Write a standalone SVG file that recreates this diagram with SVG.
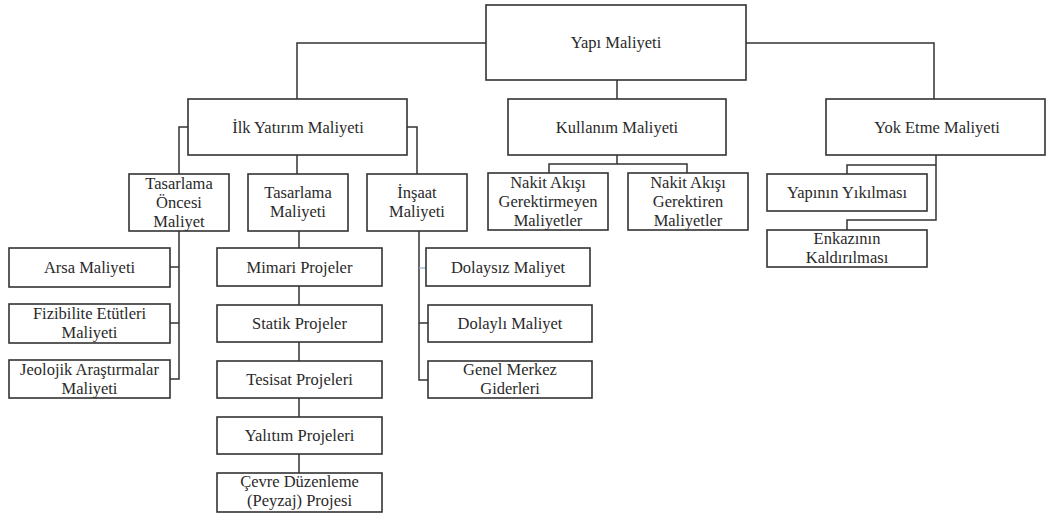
<svg xmlns="http://www.w3.org/2000/svg" width="1051" height="515" viewBox="0 0 1051 515">
<style>
.b{fill:#fff;stroke:#333;stroke-width:1.6}
.c{fill:none;stroke:#333;stroke-width:1.5}
text{font-family:"Times New Roman","Liberation Serif","DejaVu Serif","Noto Serif",Times,serif;font-size:16.5px;fill:#2a2a2a;text-anchor:middle}
</style>
<rect width="1051" height="515" fill="#fff"/>
<g id="connectors">
<path class="c" d="M486 43H297V99M617 80V99M746 43H934V99"/>
<path class="c" d="M188 127H179V174M297 155V174M407 127H417V174"/>
<path class="c" d="M617 155V164M549 173V164H687V173"/>
<path class="c" d="M936 155V220H847V230M936 165H847V174"/>
<path class="c" d="M179 231V379H170M170 267H179M170 323H179"/>
<path class="c" d="M299 231V248M299 286V305M299 342V361M299 398V417M299 454V473"/>
<path class="c" d="M419 231V380H428M419 323H428"/>
<path fill="none" stroke="#8fb0d8" stroke-width="1.2" d="M419 268H426"/>
</g>
<g id="yapi"><rect class="b" x="486" y="5" width="260" height="75"/><text x="616" y="48">Yapı Maliyeti</text></g>
<g id="ilk"><rect class="b" x="188" y="99" width="219" height="56"/><text x="298" y="133">İlk Yatırım Maliyeti</text></g>
<g id="kullanim"><rect class="b" x="508" y="99" width="218" height="56"/><text x="617" y="133">Kullanım Maliyeti</text></g>
<g id="yoketme"><rect class="b" x="826" y="99" width="219" height="56"/><text x="937" y="133">Yok Etme Maliyeti</text></g>
<g id="tasarlamaoncesi"><rect class="b" x="129" y="174" width="100" height="57"/><text x="179" y="189">Tasarlama</text><text x="179" y="208">Öncesi</text><text x="179" y="227">Maliyet</text></g>
<g id="tasarlama"><rect class="b" x="248" y="174" width="100" height="57"/><text x="298" y="198">Tasarlama</text><text x="298" y="217">Maliyeti</text></g>
<g id="insaat"><rect class="b" x="367" y="174" width="100" height="57"/><text x="417" y="198">İnşaat</text><text x="417" y="217">Maliyeti</text></g>
<g id="nakit1"><rect class="b" x="488" y="173" width="120" height="57"/><text x="548" y="188">Nakit Akışı</text><text x="548" y="207">Gerektirmeyen</text><text x="548" y="226">Maliyetler</text></g>
<g id="nakit2"><rect class="b" x="628" y="173" width="120" height="57"/><text x="688" y="188">Nakit Akışı</text><text x="688" y="207">Gerektiren</text><text x="688" y="226">Maliyetler</text></g>
<g id="yikilma"><rect class="b" x="767" y="174" width="160" height="37"/><text x="847" y="198">Yapının Yıkılması</text></g>
<g id="enkaz"><rect class="b" x="767" y="230" width="160" height="37"/><text x="847" y="244">Enkazının</text><text x="847" y="263">Kaldırılması</text></g>
<g id="arsa"><rect class="b" x="9" y="248" width="161" height="39"/><text x="89.5" y="273">Arsa Maliyeti</text></g>
<g id="fizibilite"><rect class="b" x="9" y="304" width="161" height="39"/><text x="89.5" y="319">Fizibilite Etütleri</text><text x="89.5" y="338">Maliyeti</text></g>
<g id="jeolojik"><rect class="b" x="9" y="360" width="161" height="38"/><text x="89.5" y="375">Jeolojik Araştırmalar</text><text x="89.5" y="394">Maliyeti</text></g>
<g id="mimari"><rect class="b" x="217" y="248" width="165" height="38"/><text x="299.5" y="273">Mimari Projeler</text></g>
<g id="statik"><rect class="b" x="217" y="305" width="165" height="37"/><text x="299.5" y="329">Statik Projeler</text></g>
<g id="tesisat"><rect class="b" x="217" y="361" width="165" height="37"/><text x="299.5" y="385">Tesisat Projeleri</text></g>
<g id="yalitim"><rect class="b" x="217" y="417" width="165" height="37"/><text x="299.5" y="441">Yalıtım Projeleri</text></g>
<g id="cevre"><rect class="b" x="217" y="473" width="165" height="39"/><text x="299.5" y="487">Çevre Düzenleme</text><text x="299.5" y="506">(Peyzaj) Projesi</text></g>
<g id="dolaysiz"><rect class="b" x="426" y="248" width="164" height="38"/><text x="508" y="273">Dolaysız Maliyet</text></g>
<g id="dolayli"><rect class="b" x="428" y="305" width="164" height="37"/><text x="510" y="329">Dolaylı Maliyet</text></g>
<g id="genel"><rect class="b" x="428" y="361" width="164" height="37"/><text x="510" y="375">Genel Merkez</text><text x="510" y="394">Giderleri</text></g>
</svg>
